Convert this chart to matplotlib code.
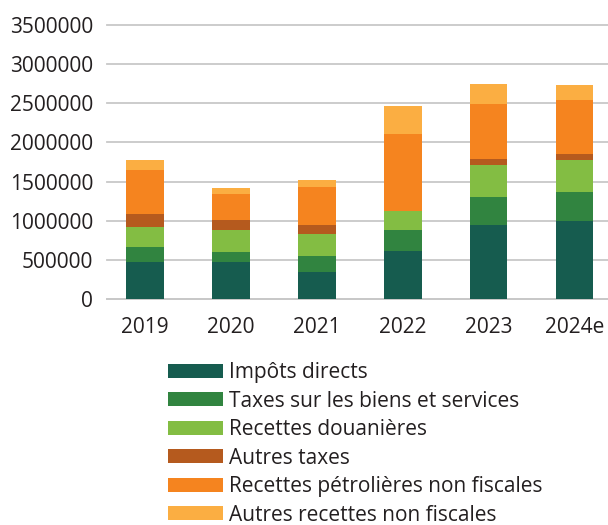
import matplotlib.pyplot as plt
import numpy as np

# years and revenue components
years = ["2019", "2020", "2021", "2022", "2023", "2024e"]
impots_directs = [472000, 472000, 345000, 613000, 945000, 997000]
taxes_biens = [192000, 128000, 204000, 269000, 358000, 370000]
recettes_douanieres = [256000, 282000, 281000, 242000, 409000, 409000]
autres_taxes = [166000, 127000, 115000, 0, 77000, 77000]
recettes_petrolieres = [566000, 337000, 486000, 984000, 702000, 690000]
autres_non_fiscales = [124000, 72000, 89000, 358000, 256000, 191000]

labels = ["Impôts directs", "Taxes sur les biens et services",
          "Recettes douanières", "Autres taxes",
          "Recettes pétrolières non fiscales", "Autres recettes non fiscales"]
colors = ["#165c4f", "#318440", "#83bd43", "#b55a1e", "#f5841f", "#fbae42"]

plt.rcParams['font.family'] = ['Open Sans', 'DejaVu Sans']

fig = plt.figure(figsize=(6.08, 5.25), dpi=100)
ax = fig.add_axes([0.176, 0.4305, 0.824, 0.522])

x = np.arange(len(years))
bottom = np.zeros(len(years))
series = [impots_directs, taxes_biens, recettes_douanieres,
          autres_taxes, recettes_petrolieres, autres_non_fiscales]
for vals, lab, col in zip(series, labels, colors):
    ax.bar(x, vals, width=0.44, bottom=bottom, color=col, label=lab, zorder=3)
    bottom += np.array(vals)

ax.set_ylim(0, 3500000)
ax.set_xlim(-0.44, 5.39)
ax.set_yticks(range(0, 3500001, 500000))
ax.set_yticklabels([str(v) for v in range(0, 3500001, 500000)])
ax.set_xticks(x)
ax.set_xticklabels(years)
ax.tick_params(axis='both', length=0, labelsize=15, colors="#231f20")
ax.tick_params(axis='y', pad=10)
ax.tick_params(axis='x', pad=13)
ax.grid(axis='y', color="#c8c8c8", linewidth=1.3, zorder=0)
for sp in ["top", "right", "left"]:
    ax.spines[sp].set_visible(False)
ax.spines["bottom"].set_color("#c8c8c8")
ax.spines["bottom"].set_linewidth(1.3)
for gl in ax.get_ygridlines():
    gl.set_clip_on(False)

fig.legend(loc="upper left", bbox_to_anchor=(0.277, 0.31), frameon=False,
           fontsize=15, handlelength=2.6, handleheight=0.66,
           labelspacing=0.36, handletextpad=0.3, borderaxespad=0,
           borderpad=0, labelcolor="#231f20")

fig.savefig("out.png", dpi=100)
